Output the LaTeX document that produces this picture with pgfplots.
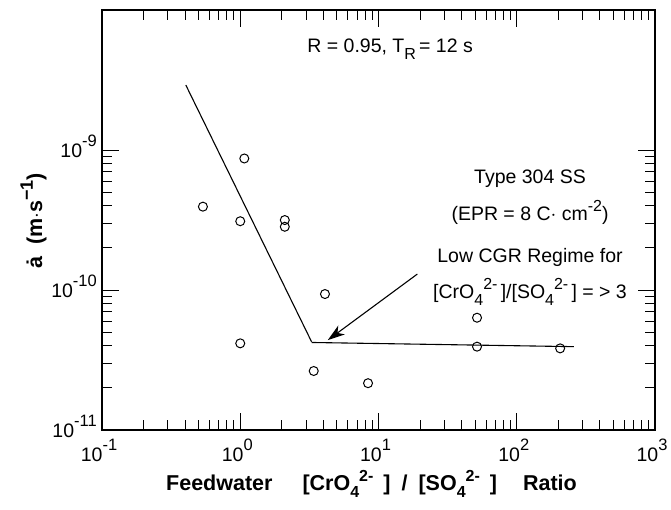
\documentclass[border=0pt]{standalone}
\usepackage{fontspec}
\setmainfont{Liberation Sans}
\usepackage{pgfplots}
\pgfplotsset{compat=1.18}
\usetikzlibrary{arrows.meta}

% raised / lowered indices in the text font
\newcommand{\up}[2][8.5pt]{\raisebox{#1}{\fontsize{16}{16}\selectfont #2}}
\newcommand{\dn}[2][-7pt]{\raisebox{#1}{\fontsize{16}{16}\selectfont #2}}
\newcommand{\dec}[1]{10\raisebox{11pt}{\fontsize{16.5}{16.5}\selectfont #1}}
\newcommand{\lblsize}{\fontsize{19.5}{19.5}\selectfont}
\newcommand{\ttlsize}{\fontsize{21.5}{21.5}\selectfont}

\begin{document}
\begin{tikzpicture}[x=1pt,y=1pt]
\path[use as bounding box] (-102,-80) rectangle (569,430);
\begin{axis}[
  at={(0pt,0pt)}, anchor=south west,
  scale only axis, width=553pt, height=420pt,
  xmode=log, ymode=log,
  xmin=0.1, xmax=1000, ymin=1e-11, ymax=1e-8,
  xtick={0.1,1,10,100,1000},
  xticklabels={\dec{-1},\dec{0},\dec{1},\dec{2},\dec{3}},
  ytick={1e-11,1e-10,1e-9},
  yticklabels={\dec{-11},\dec{-10},\dec{-9}},
  xticklabel style={anchor=base, inner sep=0pt, yshift=-31pt, xshift=-3pt},
  yticklabel style={anchor=base east, inner sep=0pt, xshift=-5pt, yshift=-7pt},
  tick label style={font=\lblsize},
  tick align=inside,
  major tick length=17pt, minor tick length=10pt,
  every tick/.style={black, line width=1pt},
  axis line style={line width=1.4pt},
  clip=false,
]
% fitted trend: falling branch and low-rate plateau
\addplot[black, line width=1.1pt] coordinates {(0.404,2.91e-9) (3.28,4.27e-11)};
\addplot[black, line width=1.1pt] coordinates {(3.28,4.22e-11) (259,3.94e-11)};

% measured crack growth rates
\addplot[only marks, mark=o, mark size=4.5pt, mark options={line width=1pt, black}] coordinates {
  (0.537,3.94e-10)
  (1.07,8.7e-10)
  (1.0,3.1e-10)
  (1.0,4.16e-11)
  (2.1,3.16e-10)
  (2.1,2.83e-10)
  (4.1,9.36e-11)
  (3.4,2.64e-11)
  (8.4,2.16e-11)
  (51.6,6.34e-11)
  (51.6,3.94e-11)
  (206,3.83e-11)
};

% arrow pointing at the plateau
\addplot[black, line width=1.1pt, -{Stealth[length=17pt, width=11pt, inset=5pt]}]
  coordinates {(19.1,1.3e-10) (4.3,4.39e-11)};

\node[anchor=base, font=\lblsize] at (rel axis cs:0.521,0.898)
  {R = 0.95,\ T\dn{R}\,= 12 s};

\begin{scope}[every node/.style={anchor=base, font=\lblsize}]
\node at (rel axis cs:0.774,0.588) {Type 304 SS};
\node at (rel axis cs:0.774,0.500) {(EPR = 8 C$\cdot$\ cm\up{-2})};
\node at (rel axis cs:0.774,0.398) {Low CGR Regime for};
\node at (rel axis cs:0.774,0.314) {[CrO\dn{4}\up{2-}\,]/[SO\dn{4}\up{2-}\,] = > 3};
\end{scope}

\coordinate (xl) at (rel axis cs:0.5,0);
\coordinate (yl) at (rel axis cs:0,0.4976);
\end{axis}

% axis titles
\node[anchor=base, font=\bfseries\ttlsize] at ([xshift=-7pt, yshift=-61pt]xl)
  {Feedwater\hspace{30pt}[CrO\dn{4}\up[9pt]{2-}\hspace{10pt}]\hspace{11pt}/\hspace{11pt}[SO\dn{4}\up[9pt]{2-}\hspace{10pt}]\hspace{26pt}Ratio};
\node[rotate=90, anchor=base, font=\bfseries\ttlsize] at ([xshift=-60pt]yl)
  {ȧ\hspace{12pt}(m$\cdot$s\up[9pt]{\bfseries \fontsize{18}{18}\selectfont −1})};
\end{tikzpicture}
\end{document}
